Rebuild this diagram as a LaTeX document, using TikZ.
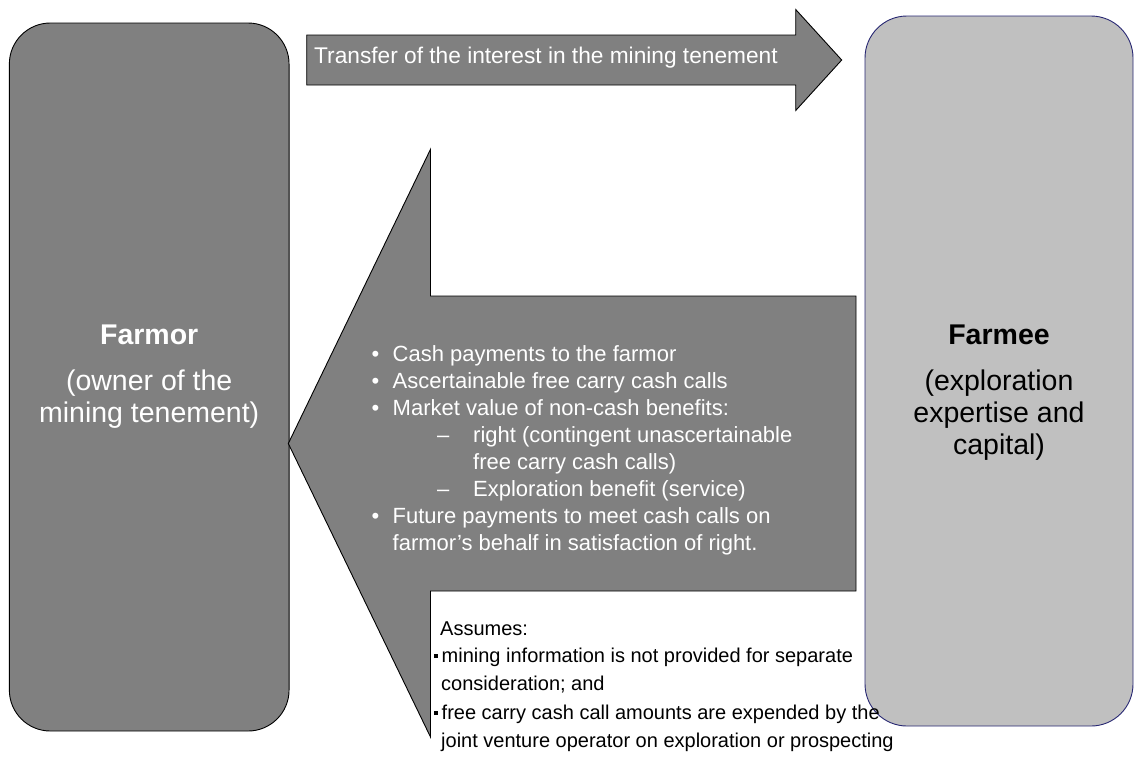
\documentclass[tikz,border=0pt]{standalone}
\usepackage{fontspec}
\setmainfont{Liberation Sans}
\definecolor{boxgray}{RGB}{128,128,128}
\definecolor{lightgray}{RGB}{192,192,192}
\definecolor{navyline}{RGB}{40,40,115}
\begin{document}
\begin{tikzpicture}[x=1pt,y=-1pt,
  darkshape/.style={fill=boxgray,draw=black,line width=0.9pt},
  lightbox/.style={fill=lightgray,draw=navyline,line width=0.9pt,rounded corners=42pt,inner sep=0pt},
  bigtext/.style={font=\fontsize{28.5}{33}\selectfont,anchor=base,inner sep=0pt},
  bullettext/.style={font=\fontsize{22}{27}\selectfont,text=white,anchor=base west,inner sep=0pt},
  notetext/.style={font=\fontsize{20}{27}\selectfont,text=black,anchor=base west,inner sep=0pt}]
\useasboundingbox (0,0) rectangle (1134,756);

% Farmor box
\node[darkshape,rounded corners=41pt,inner sep=0pt,minimum width=279.7pt,minimum height=708pt] (farmor) at (149.2,377) {};
% Farmee box
\node[lightbox,minimum width=268pt,minimum height=710pt] (farmee) at (999,371) {};

% top arrow
\coordinate (ta1) at (306.7,35);
\coordinate (ta2) at (795.7,35);
\coordinate (ta3) at (795.7,9.5);
\coordinate (ta4) at (841.7,60);
\coordinate (ta5) at (795.7,110.5);
\coordinate (ta6) at (795.7,85);
\coordinate (ta7) at (306.7,85);
\draw[darkshape] (ta1) -- (ta2) -- (ta3) -- (ta4) -- (ta5) -- (ta6) -- (ta7) -- cycle;

% big left arrow
\coordinate (ba1) at (288.3,443.5);
\coordinate (ba2) at (430.5,149.3);
\coordinate (ba3) at (430.5,296);
\coordinate (ba4) at (856,296);
\coordinate (ba5) at (856,591);
\coordinate (ba6) at (430.5,591);
\coordinate (ba7) at (430.5,737);
\draw[darkshape] (ba1) -- (ba2) -- (ba3) -- (ba4) -- (ba5) -- (ba6) -- (ba7) -- cycle;

% top arrow text
\node[font=\fontsize{22.7}{27}\selectfont,text=white,anchor=base west,inner sep=0pt] (tatext) at (314,63.3) {Transfer of the interest in the mining tenement};

% Farmor text
\node[bigtext,text=white] (f1) at (149.2,344) {\bfseries Farmor};
\node[bigtext,text=white] (f2) at (149.2,390) {(owner of the};
\node[bigtext,text=white] (f3) at (149.2,422) {mining tenement)};

% Farmee text
\node[bigtext,text=black] (g1) at (999,344) {\bfseries Farmee};
\node[bigtext,text=black] (g2) at (999,390) {(exploration};
\node[bigtext,text=black] (g3) at (999,422) {expertise and};
\node[bigtext,text=black] (g4) at (999,454) {capital)};

% bullet list in big arrow
\node[bullettext] (b1) at (371.5,361) {\makebox[21pt][l]{•}Cash payments to the farmor};
\node[bullettext] (b2) at (371.5,388) {\makebox[21pt][l]{•}Ascertainable free carry cash calls};
\node[bullettext] (b3) at (371.5,415) {\makebox[21pt][l]{•}Market value of non-cash benefits:};
\node[bullettext] (b4) at (437,442) {\makebox[36pt][l]{–}right (contingent unascertainable};
\node[bullettext] (b5) at (473,469) {free carry cash calls)};
\node[bullettext] (b6) at (437,496) {\makebox[36pt][l]{–}Exploration benefit (service)};
\node[bullettext] (b7) at (371.5,523) {\makebox[21pt][l]{•}Future payments to meet cash calls on};
\node[bullettext] (b8) at (392.5,550) {farmor’s behalf in satisfaction of right.};

% assumptions
\node[notetext] (n1) at (440,635) {Assumes:};
\node[notetext] (n2) at (433.5,662) {\makebox[8pt][l]{\raisebox{4pt}{\rule{4pt}{4.5pt}}}mining information is not provided for separate};
\node[notetext] (n3) at (441,690) {consideration; and};
\node[notetext] (n4) at (433.5,719) {\makebox[8pt][l]{\raisebox{4pt}{\rule{4pt}{4.5pt}}}free carry cash call amounts are expended by the};
\node[notetext] (n5) at (441,747) {joint venture operator on exploration or prospecting};
\end{tikzpicture}
\end{document}
